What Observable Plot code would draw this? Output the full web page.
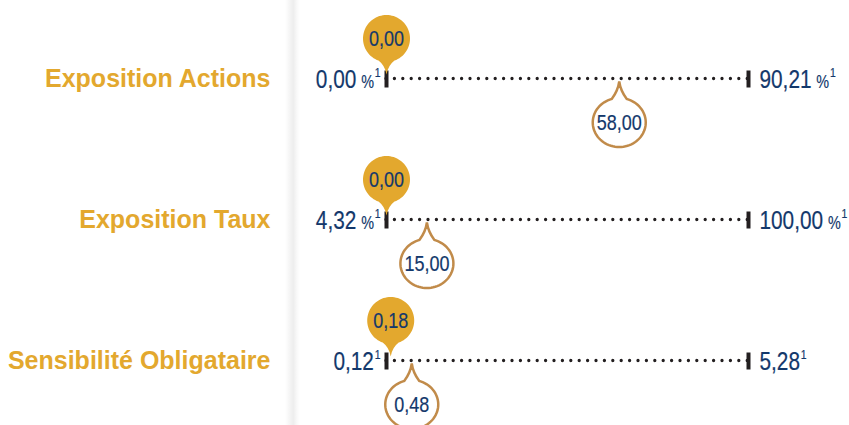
<!DOCTYPE html>
<html>
<head>
<meta charset="utf-8">
<script src="https://cdn.jsdelivr.net/npm/d3@7"></script>
<script src="https://cdn.jsdelivr.net/npm/@observablehq/plot@0.6"></script>
<style>
  html, body { margin: 0; padding: 0; background: #fff; overflow: hidden; }
  #wrap { position: relative; width: 849px; height: 425px; overflow: hidden; }
  #shadow { position: absolute; left: 285px; top: 0; width: 15px; height: 425px;
    background: linear-gradient(to right, rgba(0,0,0,0) 0%, rgba(0,0,0,0.07) 55%, rgba(0,0,0,0.025) 80%, rgba(0,0,0,0) 100%); }
  #chart { position: absolute; left: 0; top: 0; }
  #chart svg { background: transparent !important; }
</style>
</head>
<body>
<div id="wrap"><div id="shadow"></div><div id="chart"></div></div>
<script>
// ---- data ----
const rows = ["Exposition Actions", "Exposition Taux", "Sensibilité Obligataire"];
const minValues = [0.00, 4.32, 0.12];
const maxValues = [90.21, 100.00, 5.28];
const units = ["%", "%", ""];
const currentValues = [0.00, 0.00, 0.18];   // filled gold marker
const otherValues = [58.00, 15.00, 0.48];   // outlined marker

const fmt = v => v.toFixed(2).replace(".", ",");
const data = rows.map((row, i) => ({
  row, min: minValues[i], max: maxValues[i], unit: units[i],
  current: currentValues[i], other: otherValues[i]
}));
const frac = (v, d) => Math.max(0, Math.min(1, (v - d.min) / (d.max - d.min)));

// ---- styles ----
const NAVY = "#13386b";
const GOLD = "#e3a82e";
const BROWN = "#c18b4a";
const NUMFONT = "'Liberation Sans', Arial, Helvetica, sans-serif";
const SQUEEZE = 0.8;

// balloon symbol: tip at origin, ellipse centred at (0, dir*L)
function balloon(rx, ry, L, dir, halfW, ctrl) {
  return {
    draw(ctx) {
      const cy = dir * L;
      const t0 = -dir * Math.PI / 2;
      const b = Math.asin(halfW / rx);
      const pt = t => [rx * Math.cos(t), cy + ry * Math.sin(t)];
      const [x1, y1] = pt(t0 + b);
      ctx.moveTo(0, 0);
      ctx.quadraticCurveTo(Math.sign(x1) * ctrl[0], cy - dir * ry * ctrl[1], x1, y1);
      const n = 72;
      for (let k = 1; k <= n; k++) {
        const [x, y] = pt(t0 + b + (2 * Math.PI - 2 * b) * k / n);
        ctx.lineTo(x, y);
      }
      const [x2] = pt(t0 - b);
      ctx.quadraticCurveTo(Math.sign(x2) * ctrl[0], cy - dir * ry * ctrl[1], 0, 0);
      ctx.closePath();
    }
  };
}
const balloonUp = balloon(23.5, 23.5, 36, -1, 8, [1.5, 1.15]);
const balloonDown = balloon(26.5, 24.5, 41, 1, 7.5, [1.2, 1.3]);
const endTick = { draw(ctx) { ctx.rect(-2, -8, 4, 17); } };

// horizontally condensed numbers (the reference uses a condensed face)
function squeeze(index, scales, values, dims, context, next) {
  const g = next(index, scales, values, dims, context);
  d3.select(g).selectAll("text").each(function () {
    const t = this.getAttribute("transform") || "";
    this.setAttribute("transform", t + ` scale(${SQUEEZE},1)`);
  });
  return g;
}
// rich text for range labels: number + small unit + superscript footnote
function richLabel(index, scales, values, dims, context, next) {
  const g = squeeze(index, scales, values, dims, context, next);
  d3.select(g).selectAll("text").each(function (_, j) {
    const d = data[index[j]];
    const t = d3.select(this);
    if (d.unit) t.append("tspan").attr("font-size", 18).attr("dx", 6).text(d.unit);
    t.append("tspan").attr("font-size", 13).attr("dy", -11).attr("dx", 1).text("1");
  });
  return g;
}
const numStyle = { fill: NAVY, stroke: NAVY, strokeWidth: 0.2, fontFamily: NUMFONT };

const chart = Plot.plot({
  width: 849,
  height: 425,
  marginLeft: 386,
  marginRight: 101,
  marginTop: 77,
  marginBottom: 65,
  x: { domain: [0, 1], axis: null },
  y: { type: "point", domain: rows, padding: 0, axis: null },
  marks: [
    // dotted range line
    Plot.ruleY(data, { y: "row", x1: () => 0, x2: () => 1, stroke: "#231f20",
      strokeWidth: 3.3, strokeDasharray: "0,8.4", strokeLinecap: "round" }),
    // end ticks
    Plot.dot(data, { y: "row", x: () => 0, symbol: endTick, r: 3, fill: "#231f20", stroke: null }),
    Plot.dot(data, { y: "row", x: () => 1, symbol: endTick, r: 3, fill: "#231f20", stroke: null }),
    // filled gold marker above
    Plot.dot(data, { y: "row", x: d => frac(d.current, d), dy: -4, symbol: balloonUp, r: 5,
      fill: GOLD, stroke: null }),
    Plot.text(data, { y: "row", x: d => frac(d.current, d), dy: -40, text: d => fmt(d.current),
      ...numStyle, fontSize: 22.5, render: squeeze }),
    // outlined marker below
    Plot.dot(data, { y: "row", x: d => frac(d.other, d), dy: 3, symbol: balloonDown, r: 5,
      fill: "white", stroke: BROWN, strokeWidth: 2.5 }),
    Plot.text(data, { y: "row", x: d => frac(d.other, d), dy: 44, text: d => fmt(d.other),
      ...numStyle, fontSize: 22.5, render: squeeze }),
    // min / max labels
    Plot.text(data, { y: "row", x: () => 0, dx: -6, dy: 1, text: d => fmt(d.min), textAnchor: "end",
      ...numStyle, fontSize: 26, render: richLabel }),
    Plot.text(data, { y: "row", x: () => 1, dx: 11, dy: 1, text: d => fmt(d.max), textAnchor: "start",
      ...numStyle, fontSize: 26, render: richLabel }),
    // row titles
    Plot.text(data, { y: "row", frameAnchor: "left", dx: -116, text: "row", textAnchor: "end",
      fill: GOLD, fontSize: 25, fontWeight: "bold", fontFamily: "'Liberation Sans', Arial, sans-serif" })
  ]
});
document.getElementById("chart").appendChild(chart);
</script>
</body>
</html>
